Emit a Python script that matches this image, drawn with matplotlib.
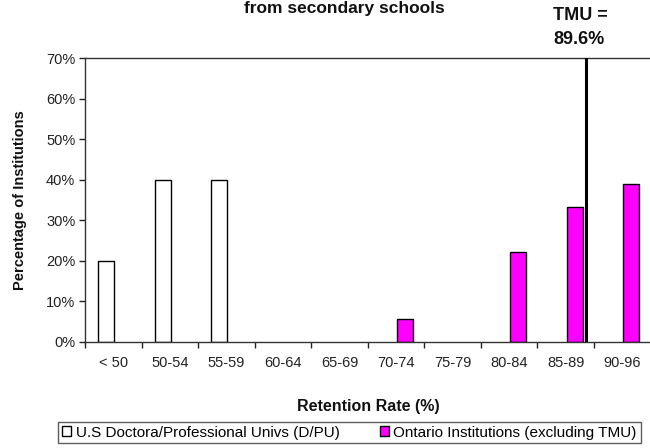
import matplotlib
matplotlib.use("Agg")
import matplotlib.pyplot as plt
import numpy as np

categories = ["< 50", "50-54", "55-59", "60-64", "65-69", "70-74", "75-79", "80-84", "85-89", "90-96"]
bin_low = [0, 50, 55, 60, 65, 70, 75, 80, 85, 90]
bin_high = [50, 55, 60, 65, 70, 75, 80, 85, 90, 97]
us_dpu = [20.0, 40.0, 40.0, 0, 0, 0, 0, 0, 0, 0]
ontario = [0, 0, 0, 0, 0, 5.56, 0, 22.2, 33.3, 38.9]
tmu_rate = 89.6
series_names = ["U.S Doctora/Professional Univs (D/PU)", "Ontario Institutions (excluding TMU)"]
title_text = "from secondary schools"
xlabel = "Retention Rate (%)"
ylabel = "Percentage of Institutions"

plt.rcParams['font.family'] = ['Liberation Sans', 'DejaVu Sans']

fig = plt.figure(figsize=(6.5, 4.48), dpi=100)
W, H = 650, 448
left, right, bottom, top = 85, 650.6, 341.7, 58.3
ax = fig.add_axes([left / W, 1 - bottom / H, (right - left) / W, (bottom - top) / H])

x = np.arange(len(categories))
bw = 0.283
us = np.array(us_dpu)
on = np.array(ontario)
mu = us > 0
mo = on > 0
ax.bar(x[mu] - 0.125, us[mu], width=bw, color='white', edgecolor='black', linewidth=1.0, label=series_names[0], zorder=2)
ax.bar(x[mo] + 0.16, on[mo], width=bw, color='#FF00FF', edgecolor='black', linewidth=1.0, label=series_names[1], zorder=2)

# TMU line: map the rate into the category axis through its bin
i = next(k for k in range(len(categories)) if bin_low[k] <= tmu_rate < bin_high[k])
tmu_x = i - 0.5 + (tmu_rate - bin_low[i]) / (bin_high[i] - bin_low[i])
ax.axvline(tmu_x - 0.06, color='black', linewidth=2.2, zorder=3)

ax.set_xlim(-0.5, len(categories) - 0.5)
ax.set_ylim(0, 70)
ax.set_yticks(np.arange(0, 71, 10))
ax.set_yticklabels([f"{v}%" for v in range(0, 71, 10)], fontsize=10.5)
ax.set_xticks(x)
ax.set_xticklabels(categories, fontsize=10.5)
ax.set_xticks(np.arange(-0.5, len(categories), 1.0), minor=True)
ax.tick_params(axis='x', which='major', length=0, pad=10)
ax.tick_params(axis='x', which='minor', length=4, width=1, color='black', direction='out')
ax.tick_params(axis='y', length=4, width=1, color='black', direction='out', pad=3)
ax.tick_params(colors='#222222', which='both')

for s in ['left', 'bottom', 'top']:
    ax.spines[s].set_color('#333333')
    ax.spines[s].set_linewidth(1.0)
ax.spines['right'].set_visible(False)

fig.text(20 / W, 1 - 200 / H, ylabel, rotation=90, ha='center', va='center', fontsize=10.5, fontweight='bold', color='#111111')
fig.text(368 / W, 1 - 406.5 / H, xlabel, ha='center', va='center', fontsize=11.5, fontweight='bold', color='#111111')
fig.text(344 / W, 1 - 13 / H, title_text, ha='center', va='baseline', fontsize=12.5, fontweight='bold', color='#111111')

fig.text(580 / W, 1 - 15.5 / H, "TMU =", ha='center', va='center', fontsize=13, fontweight='bold', color='#111111')
fig.text(579 / W, 1 - 39.5 / H, f"{tmu_rate}%", ha='center', va='center', fontsize=13, fontweight='bold', color='#111111')

leg = fig.legend(loc='center', bbox_to_anchor=(349.5 / W, 1 - 432.5 / H), ncol=2, fontsize=11,
                 frameon=True, fancybox=False, edgecolor='#333333', handlelength=0.6, handleheight=0.6,
                 handletextpad=0.3, columnspacing=2.6, borderpad=0.25, borderaxespad=0)
leg.get_frame().set_linewidth(1.0)
for h in leg.legend_handles:
    h.set_linewidth(1.0)

fig.savefig("out.png", dpi=100)
